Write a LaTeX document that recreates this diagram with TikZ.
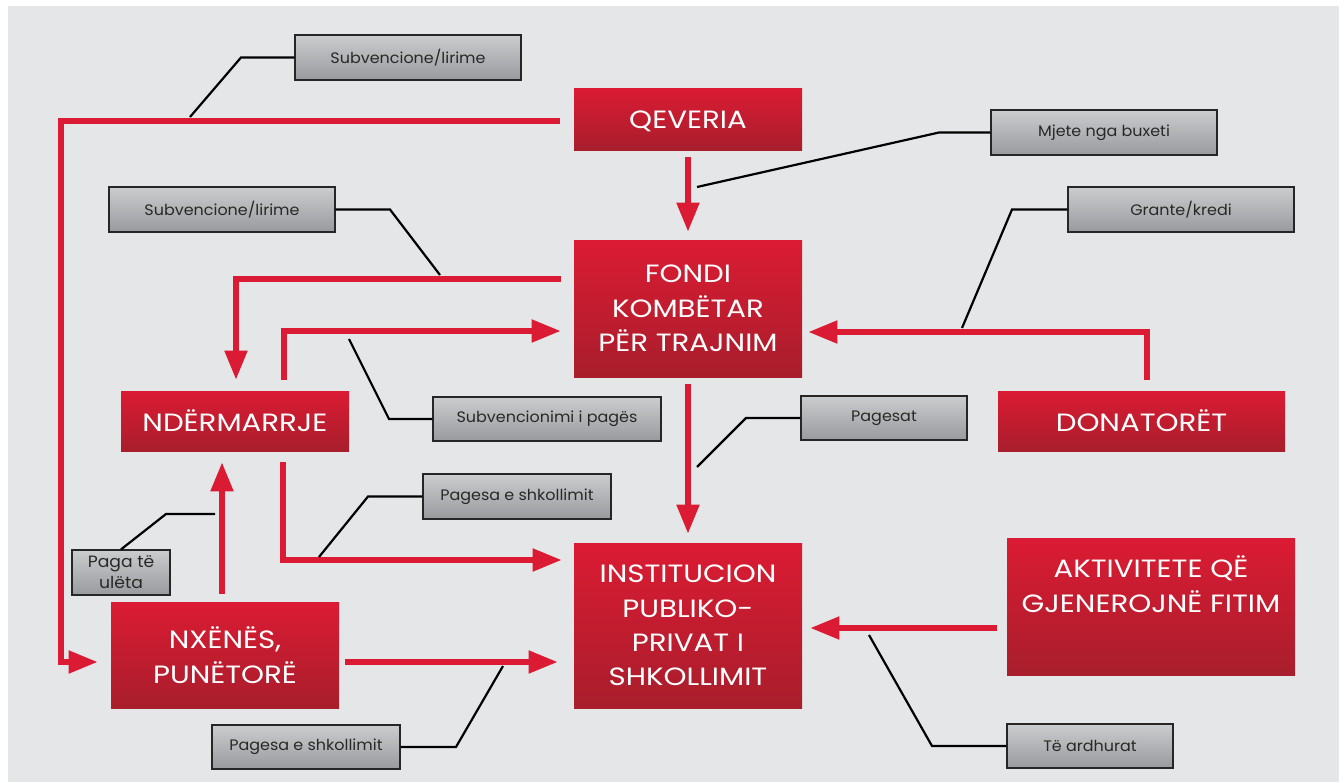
\documentclass[tikz,border=0pt]{standalone}
\usepackage{fontspec}
\setmainfont{Poppins}
\newfontfamily\blockfont[FakeStretch=1.17]{Poppins}
\newfontfamily\tagfont[FakeStretch=1.05]{Poppins}
\usetikzlibrary{arrows.meta}
\definecolor{bgcol}{RGB}{229,230,232}
\definecolor{redtop}{RGB}{219,27,51}
\definecolor{redbot}{RGB}{168,30,44}
\definecolor{flowred}{RGB}{219,27,51}
\definecolor{graytop}{RGB}{203,204,206}
\definecolor{graybot}{RGB}{153,154,157}
\definecolor{labeltext}{RGB}{40,40,40}
\tikzset{
  redbox/.style={top color=redtop, bottom color=redbot, draw=none,
    text=white, align=center, inner sep=0pt,
    font=\blockfont\fontsize{12.5}{17.2}\selectfont},
  graybox/.style={top color=graytop, bottom color=graybot, draw=black!85,
    line width=0.6pt, text=labeltext, align=center, inner sep=0pt,
    font=\tagfont\fontsize{7.6}{10}\selectfont},
  flow/.style={draw=flowred, line width=2.6pt,
    -{Triangle[length=14.5pt,width=11pt]}},
  leader/.style={draw=black, line width=1.1pt}
}
\begin{document}
\begin{tikzpicture}[x={(0.5pt,0)}, y={(0,-0.5pt)}]
  % canvas
  \useasboundingbox (0,0) rectangle (1344,782);
  \fill[white] (0,0) rectangle (1344,782);
  \fill[bgcol] (8,6) rectangle (1339,782);

  % main blocks
  \node[redbox, minimum width=114pt, minimum height=31pt, text height=10.5pt, text depth=1pt] (qev) at (688,119) {QEVERIA};
  \node[redbox, minimum width=114pt, minimum height=68.5pt] (fondi) at (688,308.5) {FONDI\\KOMBËTAR\\PËR TRAJNIM};
  \node[redbox, minimum width=114pt, minimum height=30pt] (nder) at (235,421) {NDËRMARRJE};
  \node[redbox, minimum width=143.5pt, minimum height=30pt] (don) at (1141.5,421) {DONATORËT};
  \node[redbox, minimum width=114pt, minimum height=82.5pt] (inst) at (688,625.5) {INSTITUCION\\PUBLIKO-\\PRIVAT I\\SHKOLLIMIT};
  \node[redbox, minimum width=114pt, minimum height=53pt] (nxe) at (225,655) {NXËNËS,\\PUNËTORË};
  \node[redbox, minimum width=144pt, minimum height=68.5pt] (akt) at (1151,606.5) {AKTIVITETE QË\\GJENEROJNË FITIM\\\strut};

  % flow labels
  \node[graybox, minimum width=113pt, minimum height=22.5pt] (sub1) at (408,57.5) {Subvencione/lirime};
  \node[graybox, minimum width=113pt, minimum height=22.5pt] (mjete) at (1104,132.5) {Mjete nga buxeti};
  \node[graybox, minimum width=113pt, minimum height=22.5pt] (sub2) at (222,209.5) {Subvencione/lirime};
  \node[graybox, minimum width=113pt, minimum height=22.5pt] (grante) at (1181,209.5) {Grante/kredi};
  \node[graybox, minimum width=114pt, minimum height=22pt] (subpag) at (547,419) {Subvencionimi i pagës};
  \node[graybox, minimum width=83pt, minimum height=22pt] (pagesat) at (884,418) {Pagesat};
  \node[graybox, minimum width=94pt, minimum height=22.5pt] (pagmid) at (517,496.5) {Pagesa e shkollimit};
  \node[graybox, minimum width=49pt, minimum height=22.5pt, font=\tagfont\fontsize{8.2}{10.5}\selectfont] (paga) at (121,572.5) {Paga të\\ulëta};
  \node[graybox, minimum width=94pt, minimum height=22pt] (pagbot) at (306,747) {Pagesa e shkollimit};
  \node[graybox, minimum width=83pt, minimum height=22pt] (ardh) at (1090,746) {Të ardhurat};

  % money flows
  \draw[flow, shorten <=7pt, shorten >=6.5pt]
    ([yshift=-1pt]qev.west) -- (61,121) -- (61,662) -- ([yshift=-3.5pt]nxe.west);
  \draw[flow, shorten <=3.5pt, shorten >=4pt] (qev.south) -- (fondi.north);
  \draw[flow, shorten <=6.5pt, shorten >=5.5pt]
    ([yshift=14.75pt]fondi.west) -| ([xshift=0.5pt]nder.north);
  \draw[flow, shorten <=5.5pt, shorten >=6.5pt]
    ([xshift=24.5pt]nder.north) |- ([yshift=-11.25pt]fondi.west);
  \draw[flow, shorten <=5.5pt, shorten >=3pt]
    ([xshift=2.75pt]don.north) |- ([yshift=-11.75pt]fondi.east);
  \draw[flow, shorten <=3.5pt, shorten >=4.5pt] (fondi.south) -- (inst.north);
  \draw[flow, shorten <=5.5pt, shorten >=6pt]
    ([xshift=24pt]nder.south) |- ([yshift=32.75pt]inst.west);
  \draw[flow, shorten <=4pt, shorten >=5.5pt]
    ([xshift=-1.5pt]nxe.north) -- ([xshift=-1.5pt]nxe.north |- nder.south);
  \draw[flow, shorten <=3pt, shorten >=8pt]
    ([yshift=-3.5pt]nxe.east) -- ([yshift=-3.5pt]nxe.east -| inst.west);
  \draw[flow, shorten <=5pt, shorten >=4pt]
    ([yshift=-10.75pt]akt.west) -- ([yshift=-10.75pt]akt.west -| inst.east);

  % leader lines from labels to flows
  \coordinate (e1) at (190,117);
  \coordinate (e2) at (697,187);
  \coordinate (e3) at (440,275);
  \coordinate (e4) at (962,328);
  \coordinate (e5) at (349,339);
  \coordinate (e6) at (697,467);
  \coordinate (e7) at (319,557);
  \coordinate (e8) at (215,514);
  \coordinate (e9) at (503,666);
  \coordinate (e10) at (869,635);
  \draw[leader] (sub1.west) -- (241,57.5) -- (e1);
  \draw[leader] (mjete.west) -- (939,132.5) -- (e2);
  \draw[leader] (sub2.east) -- (390,209.5) -- (e3);
  \draw[leader] (grante.west) -- (1012,209.5) -- (e4);
  \draw[leader] (subpag.west) -- (389,419) -- (e5);
  \draw[leader] (pagesat.west) -- (746,418) -- (e6);
  \draw[leader] (pagmid.west) -- (368,496.5) -- (e7);
  \draw[leader] (paga.north) -- (166,514) -- (e8);
  \draw[leader] (pagbot.east) -- (456,747) -- (e9);
  \draw[leader] (ardh.west) -- (932,746) -- (e10);
\end{tikzpicture}
\end{document}
